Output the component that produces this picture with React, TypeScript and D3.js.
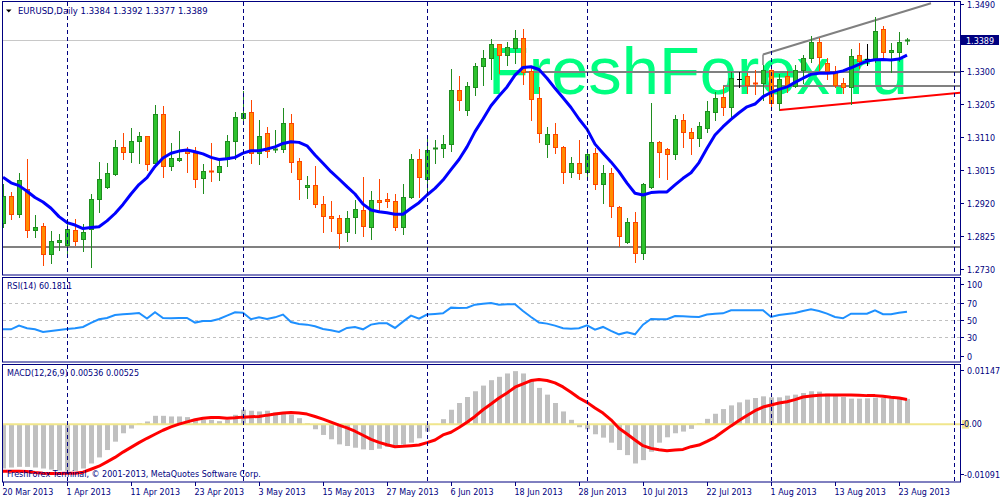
import React from 'react';
import * as d3 from 'd3';

// ---------- data ----------
const opens = [1.2862,1.2940,1.2890,1.2960,1.2843,1.2854,1.2773,1.2809,1.2799,1.2842,1.2816,1.2845,1.2931,1.2967,1.3004,1.3080,1.3067,1.3097,1.3111,1.3034,1.3175,1.3027,1.3044,1.3074,1.3064,1.2993,1.3012,1.3008,1.3046,1.3097,1.3163,1.3180,1.3063,1.3120,1.3072,1.3074,1.3151,1.3040,1.2965,1.2971,1.2916,1.2882,1.2876,1.2836,1.2879,1.2899,1.2850,1.2928,1.2931,1.2925,1.2850,1.2936,1.3045,1.2990,1.3074,1.3077,1.3088,1.3244,1.3188,1.3254,1.3313,1.3335,1.3375,1.3346,1.3364,1.3392,1.3299,1.3220,1.3088,1.3117,1.3080,1.3008,1.3034,1.3010,1.3063,1.2974,1.3005,1.2909,1.2808,1.2865,1.2776,1.2967,1.3094,1.3075,1.3060,1.3158,1.3123,1.3106,1.3136,1.3182,1.3223,1.3196,1.3275,1.3284,1.3263,1.3263,1.3301,1.3206,1.3284,1.3256,1.3303,1.3335,1.3381,1.3321,1.3299,1.3263,1.3254,1.3346,1.3333,1.3333,1.3418,1.3354,1.3354,1.3384];
const highs = [1.2974,1.2952,1.3005,1.3046,1.2886,1.2862,1.2840,1.2831,1.2862,1.2873,1.2860,1.2946,1.3038,1.3035,1.3101,1.3122,1.3135,1.3124,1.3112,1.3201,1.3198,1.3092,1.3126,1.3081,1.3081,1.3032,1.3092,1.3043,1.3115,1.3182,1.3241,1.3215,1.3158,1.3138,1.3129,1.3192,1.3175,1.3048,1.2997,1.3026,1.2940,1.2926,1.2886,1.2897,1.2929,1.2995,1.2954,1.2989,1.2948,1.2946,1.2974,1.3061,1.3074,1.3106,1.3102,1.3114,1.3304,1.3284,1.3268,1.3321,1.3359,1.3390,1.3377,1.3382,1.3416,1.3419,1.3309,1.3252,1.3139,1.3149,1.3084,1.3052,1.3101,1.3074,1.3077,1.3028,1.3020,1.2911,1.2876,1.2893,1.2977,1.3206,1.3099,1.3079,1.3172,1.3175,1.3134,1.3153,1.3213,1.3239,1.3256,1.3297,1.3297,1.3292,1.3301,1.3316,1.3311,1.3290,1.3299,1.3316,1.3344,1.3399,1.3392,1.3335,1.3314,1.3278,1.3362,1.3378,1.3375,1.3453,1.3428,1.3380,1.3410,1.3392];
const lows = [1.2852,1.2873,1.2881,1.2823,1.2823,1.2742,1.2747,1.2785,1.2764,1.2800,1.2783,1.2737,1.2895,1.2964,1.3000,1.3046,1.3038,1.3034,1.3015,1.3022,1.2995,1.3016,1.3042,1.3010,1.2967,1.2950,1.2984,1.2986,1.3027,1.3046,1.3156,1.3034,1.3031,1.3051,1.3065,1.3067,1.3008,1.2931,1.2935,1.2909,1.2838,1.2840,1.2790,1.2812,1.2835,1.2826,1.2816,1.2895,1.2909,1.2843,1.2831,1.2935,1.2938,1.2948,1.3036,1.3051,1.3070,1.3187,1.3172,1.3230,1.3258,1.3276,1.3292,1.3316,1.3322,1.3260,1.3158,1.3096,1.3053,1.3063,1.2978,1.2995,1.2988,1.2995,1.2959,1.2919,1.2879,1.2797,1.2806,1.2750,1.2759,1.2962,1.2995,1.2988,1.3045,1.3080,1.3061,1.3084,1.3124,1.3158,1.3172,1.3163,1.3252,1.3236,1.3232,1.3215,1.3192,1.3187,1.3239,1.3253,1.3263,1.3325,1.3301,1.3276,1.3252,1.3236,1.3204,1.3306,1.3316,1.3325,1.3330,1.3297,1.3328,1.3377];
const closes = [1.2940,1.2888,1.2986,1.2843,1.2850,1.2773,1.2810,1.2814,1.2845,1.2812,1.2838,1.2931,1.2988,1.3005,1.3080,1.3065,1.3097,1.3111,1.3031,1.3175,1.3027,1.3048,1.3048,1.3063,1.2990,1.3012,1.3008,1.3026,1.3097,1.3166,1.3177,1.3063,1.3112,1.3070,1.3075,1.3149,1.3037,1.2988,1.2971,1.2916,1.2882,1.2876,1.2833,1.2876,1.2902,1.2853,1.2928,1.2922,1.2925,1.2850,1.2937,1.3045,1.2994,1.3071,1.3077,1.3088,1.3244,1.3215,1.3256,1.3313,1.3336,1.3376,1.3344,1.3367,1.3392,1.3295,1.3217,1.3120,1.3117,1.3080,1.3008,1.3034,1.3005,1.3060,1.2974,1.3005,1.2911,1.2825,1.2865,1.2776,1.2974,1.3094,1.3065,1.3060,1.3161,1.3123,1.3106,1.3141,1.3184,1.3220,1.3196,1.3278,1.3275,1.3258,1.3260,1.3301,1.3206,1.3275,1.3256,1.3303,1.3335,1.3381,1.3338,1.3299,1.3258,1.3252,1.3342,1.3328,1.3333,1.3414,1.3354,1.3359,1.3381,1.3389];
const maValues = [1.2994,1.2978,1.2970,1.2954,1.2936,1.2923,1.2905,1.2881,1.2864,1.2857,1.2847,1.2850,1.2852,1.2869,1.2890,1.2916,1.2946,1.2973,1.2993,1.3025,1.3049,1.3063,1.3069,1.3072,1.3067,1.3061,1.3051,1.3045,1.3047,1.3051,1.3063,1.3070,1.3070,1.3075,1.3081,1.3091,1.3096,1.3094,1.3084,1.3058,1.3034,1.3010,1.2989,1.2967,1.2946,1.2917,1.2900,1.2895,1.2892,1.2888,1.2888,1.2905,1.2921,1.2943,1.2962,1.2986,1.3016,1.3045,1.3081,1.3125,1.3161,1.3199,1.3227,1.3253,1.3287,1.3309,1.3311,1.3303,1.3278,1.3249,1.3222,1.3194,1.3161,1.3132,1.3089,1.3063,1.3038,1.3010,1.2977,1.2948,1.2943,1.2950,1.2952,1.2952,1.2972,1.2991,1.3007,1.3036,1.3077,1.3115,1.3139,1.3160,1.3179,1.3196,1.3204,1.3225,1.3237,1.3246,1.3253,1.3266,1.3278,1.3289,1.3292,1.3292,1.3294,1.3299,1.3308,1.3318,1.3327,1.3331,1.3332,1.3330,1.3333,1.3344];
const rsiValues = [39.4,39.4,43.7,40.6,39.4,36.3,37.5,38.6,39.8,40.6,42.2,46.9,51.2,52.7,56.3,57.1,57.8,58.6,52.0,59.4,52.7,52.4,52.7,52.7,47.3,49.2,49.2,51.6,55.5,59.4,59.0,51.2,53.5,51.6,53.5,56.7,48.0,45.7,44.9,42.9,39.8,38.2,36.3,41.0,42.2,39.4,44.9,46.5,46.5,41.0,48.4,55.5,52.0,56.7,57.5,58.2,64.9,64.5,64.9,68.4,69.6,70.4,68.4,68.8,68.8,61.0,53.9,47.3,46.1,43.7,40.6,40.2,40.6,44.1,39.0,42.2,37.5,33.5,35.9,33.5,44.9,51.6,51.2,51.2,55.1,54.7,54.3,53.9,56.7,57.8,58.2,61.8,61.7,61.8,61.7,61.8,53.9,56.3,57.5,58.6,61.0,62.9,61.0,57.8,53.9,52.4,57.8,57.8,57.8,61.8,57.1,57.1,59.0,60.18];
const macdValues = [-0.00933,-0.00912,-0.00898,-0.00898,-0.00912,-0.00933,-0.00955,-0.00976,-0.00983,-0.00983,-0.00933,-0.00827,-0.00699,-0.00543,-0.00366,-0.00189,-0.00089,0.00024,0.00060,0.00180,0.00180,0.00166,0.00166,0.00152,0.00116,0.00095,0.00095,0.00067,0.00095,0.00201,0.00308,0.00287,0.00272,0.00287,0.00251,0.00237,0.00201,0.00130,0.00024,-0.00104,-0.00224,-0.00316,-0.00423,-0.00458,-0.00494,-0.00529,-0.00543,-0.00515,-0.00479,-0.00458,-0.00430,-0.00387,-0.00295,-0.00153,0.00010,0.00109,0.00308,0.00450,0.00577,0.00698,0.00818,0.00932,0.01003,0.01074,0.01123,0.01074,0.00946,0.00769,0.00627,0.00450,0.00272,0.00095,-0.00061,-0.00104,-0.00210,-0.00281,-0.00387,-0.00543,-0.00650,-0.00827,-0.00756,-0.00579,-0.00387,-0.00274,-0.00189,-0.00153,-0.00096,0.00024,0.00116,0.00223,0.00322,0.00400,0.00464,0.00521,0.00556,0.00591,0.00570,0.00570,0.00606,0.00627,0.00662,0.00698,0.00691,0.00648,0.00620,0.00577,0.00542,0.00542,0.00549,0.00563,0.00556,0.00549,0.00542,0.00536];
const signalValues = [-0.00990,-0.00990,-0.00990,-0.00997,-0.01018,-0.01033,-0.01040,-0.01040,-0.01033,-0.01033,-0.01011,-0.00948,-0.00884,-0.00792,-0.00699,-0.00586,-0.00487,-0.00387,-0.00295,-0.00210,-0.00125,-0.00054,0.00003,0.00052,0.00095,0.00130,0.00145,0.00145,0.00130,0.00138,0.00152,0.00159,0.00166,0.00194,0.00216,0.00237,0.00251,0.00237,0.00216,0.00166,0.00109,0.00045,-0.00018,-0.00075,-0.00146,-0.00231,-0.00316,-0.00380,-0.00430,-0.00472,-0.00465,-0.00451,-0.00437,-0.00387,-0.00330,-0.00224,-0.00167,-0.00068,0.00045,0.00166,0.00308,0.00428,0.00556,0.00662,0.00783,0.00854,0.00925,0.00946,0.00925,0.00875,0.00790,0.00677,0.00556,0.00464,0.00343,0.00237,0.00095,-0.00082,-0.00203,-0.00330,-0.00451,-0.00508,-0.00536,-0.00557,-0.00543,-0.00529,-0.00472,-0.00437,-0.00359,-0.00274,-0.00153,-0.00033,0.00081,0.00187,0.00287,0.00365,0.00407,0.00450,0.00478,0.00521,0.00577,0.00599,0.00613,0.00620,0.00620,0.00620,0.00620,0.00613,0.00606,0.00606,0.00591,0.00570,0.00556,0.00525];

const dateTickIdx = [0, 8, 16, 24, 32, 40, 48, 56, 64, 72, 80, 88, 96, 104, 112];
const dateTickLabels = ['20 Mar 2013','1 Apr 2013','11 Apr 2013','23 Apr 2013','3 May 2013','15 May 2013','27 May 2013','6 Jun 2013','18 Jun 2013','28 Jun 2013','10 Jul 2013','22 Jul 2013','1 Aug 2013','13 Aug 2013','23 Aug 2013'];
const monthSeparatorIdx = [8, 30, 53, 73, 96, 118.9];
const priceTicks = [1.3490, 1.3300, 1.3205, 1.3110, 1.3015, 1.2920, 1.2825, 1.2730];
const rsiTicks = [100, 70, 50, 30, 0];
const rsiLevels = [70, 50, 30];
const macdTicks = [0.01147, -0.01091];

// chart objects drawn by the user
const hLinePrices = [1.2795, 1.3297, 1.3256];
const hLineStartIdx = [-1, 64.8, 90];
const grayTrend = [[95, 1.3346], [116, 1.3493]];
const redTrend = [[97.1, 1.3187], [120, 1.3237]];

const lastPrice = 1.3389;
const title = 'EURUSD,Daily  1.3384 1.3392 1.3377 1.3389';

// ---------- styles ----------
const NAVY = '#000080';
const FONT = 'DejaVu Sans, Verdana, sans-serif';
const BULL_FILL = '#2dc22d';
const BULL_LINE = '#1f8c1f';
const BEAR_FILL = '#ff8c00';
const BEAR_LINE = '#ff4500';

const L = 3, R = 960;
const MAIN_TOP = 2, MAIN_BOT = 275;
const RSI_TOP = 278, RSI_BOT = 362;
const MACD_TOP = 365, MACD_BOT = 482;

export default function App() {
  const x = d3.scaleLinear().domain([0, 113]).range([3, 907]);
  const yP = d3.scaleLinear().domain([1.2730, 1.3490]).range([269.3, 4.3]);
  const yR = d3.scaleLinear().domain([0, 100]).range([362.8, 277.8]);
  const yM = d3.scaleLinear().domain([-0.01091, 0.01147]).range([476, 370]);

  const maLine = d3.line<number>().x((_, i) => x(i)).y((d) => yP(d));
  const rsiLine = d3.line<number>().x((_, i) => x(i)).y((d) => yR(d));
  const sigLine = d3.line<number>().x((_, i) => x(i)).y((d) => yM(d));

  const clampR = (v: number) => Math.max(284, Math.min(356, yR(v)));
  const clampM = (v: number) => Math.max(370, Math.min(474, yM(v)));
  const zeroY = yM(0);

  return (
    <div style={{ position: 'fixed', left: 0, top: 0, width: 1000, height: 500, background: '#fff' }}>
      <svg width={1000} height={500} style={{ display: 'block', fontFamily: FONT }}>
        <defs>
          <clipPath id="cMain"><rect x={L} y={MAIN_TOP} width={R - L} height={MAIN_BOT - MAIN_TOP} /></clipPath>
          <clipPath id="cRsi"><rect x={L} y={RSI_TOP} width={R - L} height={RSI_BOT - RSI_TOP} /></clipPath>
          <clipPath id="cMacd"><rect x={L} y={MACD_TOP} width={R - L} height={MACD_BOT - MACD_TOP} /></clipPath>
        </defs>
        <rect x={0} y={0} width={1000} height={500} fill="#fff" />

        {/* ---------------- main panel ---------------- */}
        <g clipPath="url(#cMain)">
          <text x={488} y={94} fontFamily="Liberation Sans, Arial, sans-serif" fontSize={67}
            fill="#00ff80" textLength={420} lengthAdjust="spacingAndGlyphs">FreshForex.ru</text>
          <line x1={L} x2={R} y1={Math.round(yP(lastPrice)) + 0.5} y2={Math.round(yP(lastPrice)) + 0.5} stroke="#c8c8c8" />
          {hLinePrices.map((p, k) => (
            <line key={k} x1={Math.max(L, x(hLineStartIdx[k]))} x2={R} y1={Math.round(yP(p))} y2={Math.round(yP(p))}
              stroke="#808080" strokeWidth={2} />
          ))}
          <line x1={x(grayTrend[0][0])} y1={yP(grayTrend[0][1])} x2={x(grayTrend[1][0])} y2={yP(grayTrend[1][1])}
            stroke="#808080" strokeWidth={2} />
          <line x1={x(grayTrend[0][0])} y1={yP(grayTrend[0][1])} x2={x(grayTrend[0][0])} y2={yP(1.3316)}
            stroke="#808080" strokeWidth={1.5} />
          <line x1={x(redTrend[0][0])} y1={yP(redTrend[0][1])} x2={x(redTrend[1][0])} y2={yP(redTrend[1][1])}
            stroke="#ff0000" strokeWidth={2} />
          {opens.map((o, i) => {
            const c = closes[i];
            const cx = Math.round(x(i));
            const doji = o === c;
            const bull = c > o;
            const stroke = doji ? '#000' : bull ? BULL_LINE : BEAR_LINE;
            const fill = bull ? BULL_FILL : BEAR_FILL;
            const top = Math.round(Math.min(yP(o), yP(c)));
            const bot = Math.round(Math.max(yP(o), yP(c)));
            return (
              <g key={i}>
                <line x1={cx + 0.5} x2={cx + 0.5} y1={Math.round(yP(highs[i]))} y2={Math.round(yP(lows[i])) + 1} stroke={stroke} />
                {doji || bot - top <= 1 ? (
                  <line x1={cx - 2} x2={cx + 3} y1={top + 0.5} y2={top + 0.5} stroke={stroke} strokeWidth={bot - top <= 0 ? 1 : 2} />
                ) : (
                  <rect x={cx - 1.5} y={top + 0.5} width={4} height={bot - top} fill={fill} stroke={stroke} />
                )}
              </g>
            );
          })}
          <path d={maLine(maValues) || ''} fill="none" stroke="#0000ff" strokeWidth={3} strokeLinejoin="round" />
        </g>

        {/* ---------------- RSI panel ---------------- */}
        <g clipPath="url(#cRsi)">
          {rsiLevels.map((v) => (
            <line key={v} x1={L} x2={R} y1={Math.round(yR(v)) + 0.5} y2={Math.round(yR(v)) + 0.5}
              stroke="#c0c0c0" strokeDasharray="3,3" />
          ))}
          <path d={rsiLine(rsiValues) || ''} fill="none" stroke="#1e90ff" strokeWidth={2} />
        </g>

        {/* ---------------- MACD panel ---------------- */}
        <g clipPath="url(#cMacd)">
          {macdValues.map((v, i) => {
            const cx = Math.round(x(i));
            const y0 = zeroY, y1 = yM(v);
            return <rect key={i} x={cx - 2} width={5} y={Math.min(y0, y1)} height={Math.abs(y1 - y0)} fill="#c0c0c0" />;
          })}
          <line x1={L} x2={R} y1={zeroY} y2={zeroY} stroke="#f0e68c" strokeWidth={2} />
          <path d={sigLine(signalValues) || ''} fill="none" stroke="#ff0000" strokeWidth={3} strokeLinejoin="round" />
        </g>

        {/* month separators */}
        {monthSeparatorIdx.map((idx) => {
          const sx = Math.round(x(idx)) + 0.5;
          return (
            <g key={idx} stroke={NAVY} strokeDasharray="4,3">
              <line x1={sx} x2={sx} y1={MAIN_TOP} y2={MAIN_BOT} />
              <line x1={sx} x2={sx} y1={RSI_TOP} y2={RSI_BOT} />
              <line x1={sx} x2={sx} y1={MACD_TOP} y2={MACD_BOT} />
            </g>
          );
        })}

        {/* frames */}
        <g fill="none" stroke={NAVY}>
          <rect x={2.5} y={1.5} width={R - 2} height={MAIN_BOT - 1.5} />
          <rect x={2.5} y={RSI_TOP - 0.5} width={R - 2} height={RSI_BOT - RSI_TOP + 0.5} />
          <rect x={2.5} y={MACD_TOP - 0.5} width={R - 2} height={MACD_BOT - MACD_TOP + 0.5} />
        </g>

        {/* right axis: price */}
        <g fontSize={8} fill={NAVY}>
          {priceTicks.map((p) => {
            const ty = Math.round(yP(p)) + 0.5;
            return (
              <g key={p}>
                <line x1={R} x2={R + 4} y1={ty} y2={ty} stroke={NAVY} />
                <text x={967} y={ty + 3}>{p.toFixed(4)}</text>
              </g>
            );
          })}
          <rect x={961} y={Math.round(yP(lastPrice)) - 5} width={38} height={10} fill={NAVY} />
          <text x={966} y={Math.round(yP(lastPrice)) + 3.5} fill="#fff">{lastPrice.toFixed(4)}</text>

          {rsiTicks.map((v) => {
            const ty = Math.round(clampR(v)) + 0.5;
            return (
              <g key={v}>
                <line x1={R} x2={R + 4} y1={ty} y2={ty} stroke={NAVY} />
                <text x={967} y={ty + 3}>{v}</text>
              </g>
            );
          })}

          {macdTicks.map((v) => {
            const ty = Math.round(clampM(v)) + 0.5;
            return (
              <g key={v}>
                <line x1={R} x2={R + 4} y1={ty} y2={ty} stroke={NAVY} />
                <text x={v < 0 ? 964 : 967} y={ty + 3}>{v.toFixed(5)}</text>
              </g>
            );
          })}
          <rect x={962} y={zeroY - 4.3} width={7} height={8.6} fill="#f0e68c" />
          <line x1={R} x2={R + 4} y1={Math.round(zeroY) + 0.5} y2={Math.round(zeroY) + 0.5} stroke={NAVY} />
          <text x={964} y={zeroY + 3}>0.00</text>
        </g>

        {/* bottom axis */}
        <g fontSize={8} fill={NAVY}>
          {dateTickIdx.map((idx, k) => {
            const tx = Math.round(x(idx)) + 0.5;
            return (
              <g key={idx}>
                <line x1={tx} x2={tx} y1={MACD_BOT} y2={MACD_BOT + 4} stroke={NAVY} />
                <text x={tx - 1} y={495}>{dateTickLabels[k]}</text>
              </g>
            );
          })}
        </g>

        {/* labels */}
        <path d="M6,9.5 L11.5,9.5 L8.75,12.5 Z" fill="#000" />
        <text x={18} y={13.5} fontSize={8.5} fill={NAVY}>{title}</text>
        <text x={7} y={289} fontSize={8} fill={NAVY}>RSI(14) 60.1811</text>
        <text x={7} y={375.5} fontSize={8} fill={NAVY}>MACD(12,26,9) 0.00536 0.00525</text>
        <text x={7} y={477} fontSize={8} fill={NAVY}>FreshForex Terminal, © 2001-2013, MetaQuotes Software Corp.</text>
      </svg>
    </div>
  );
}
